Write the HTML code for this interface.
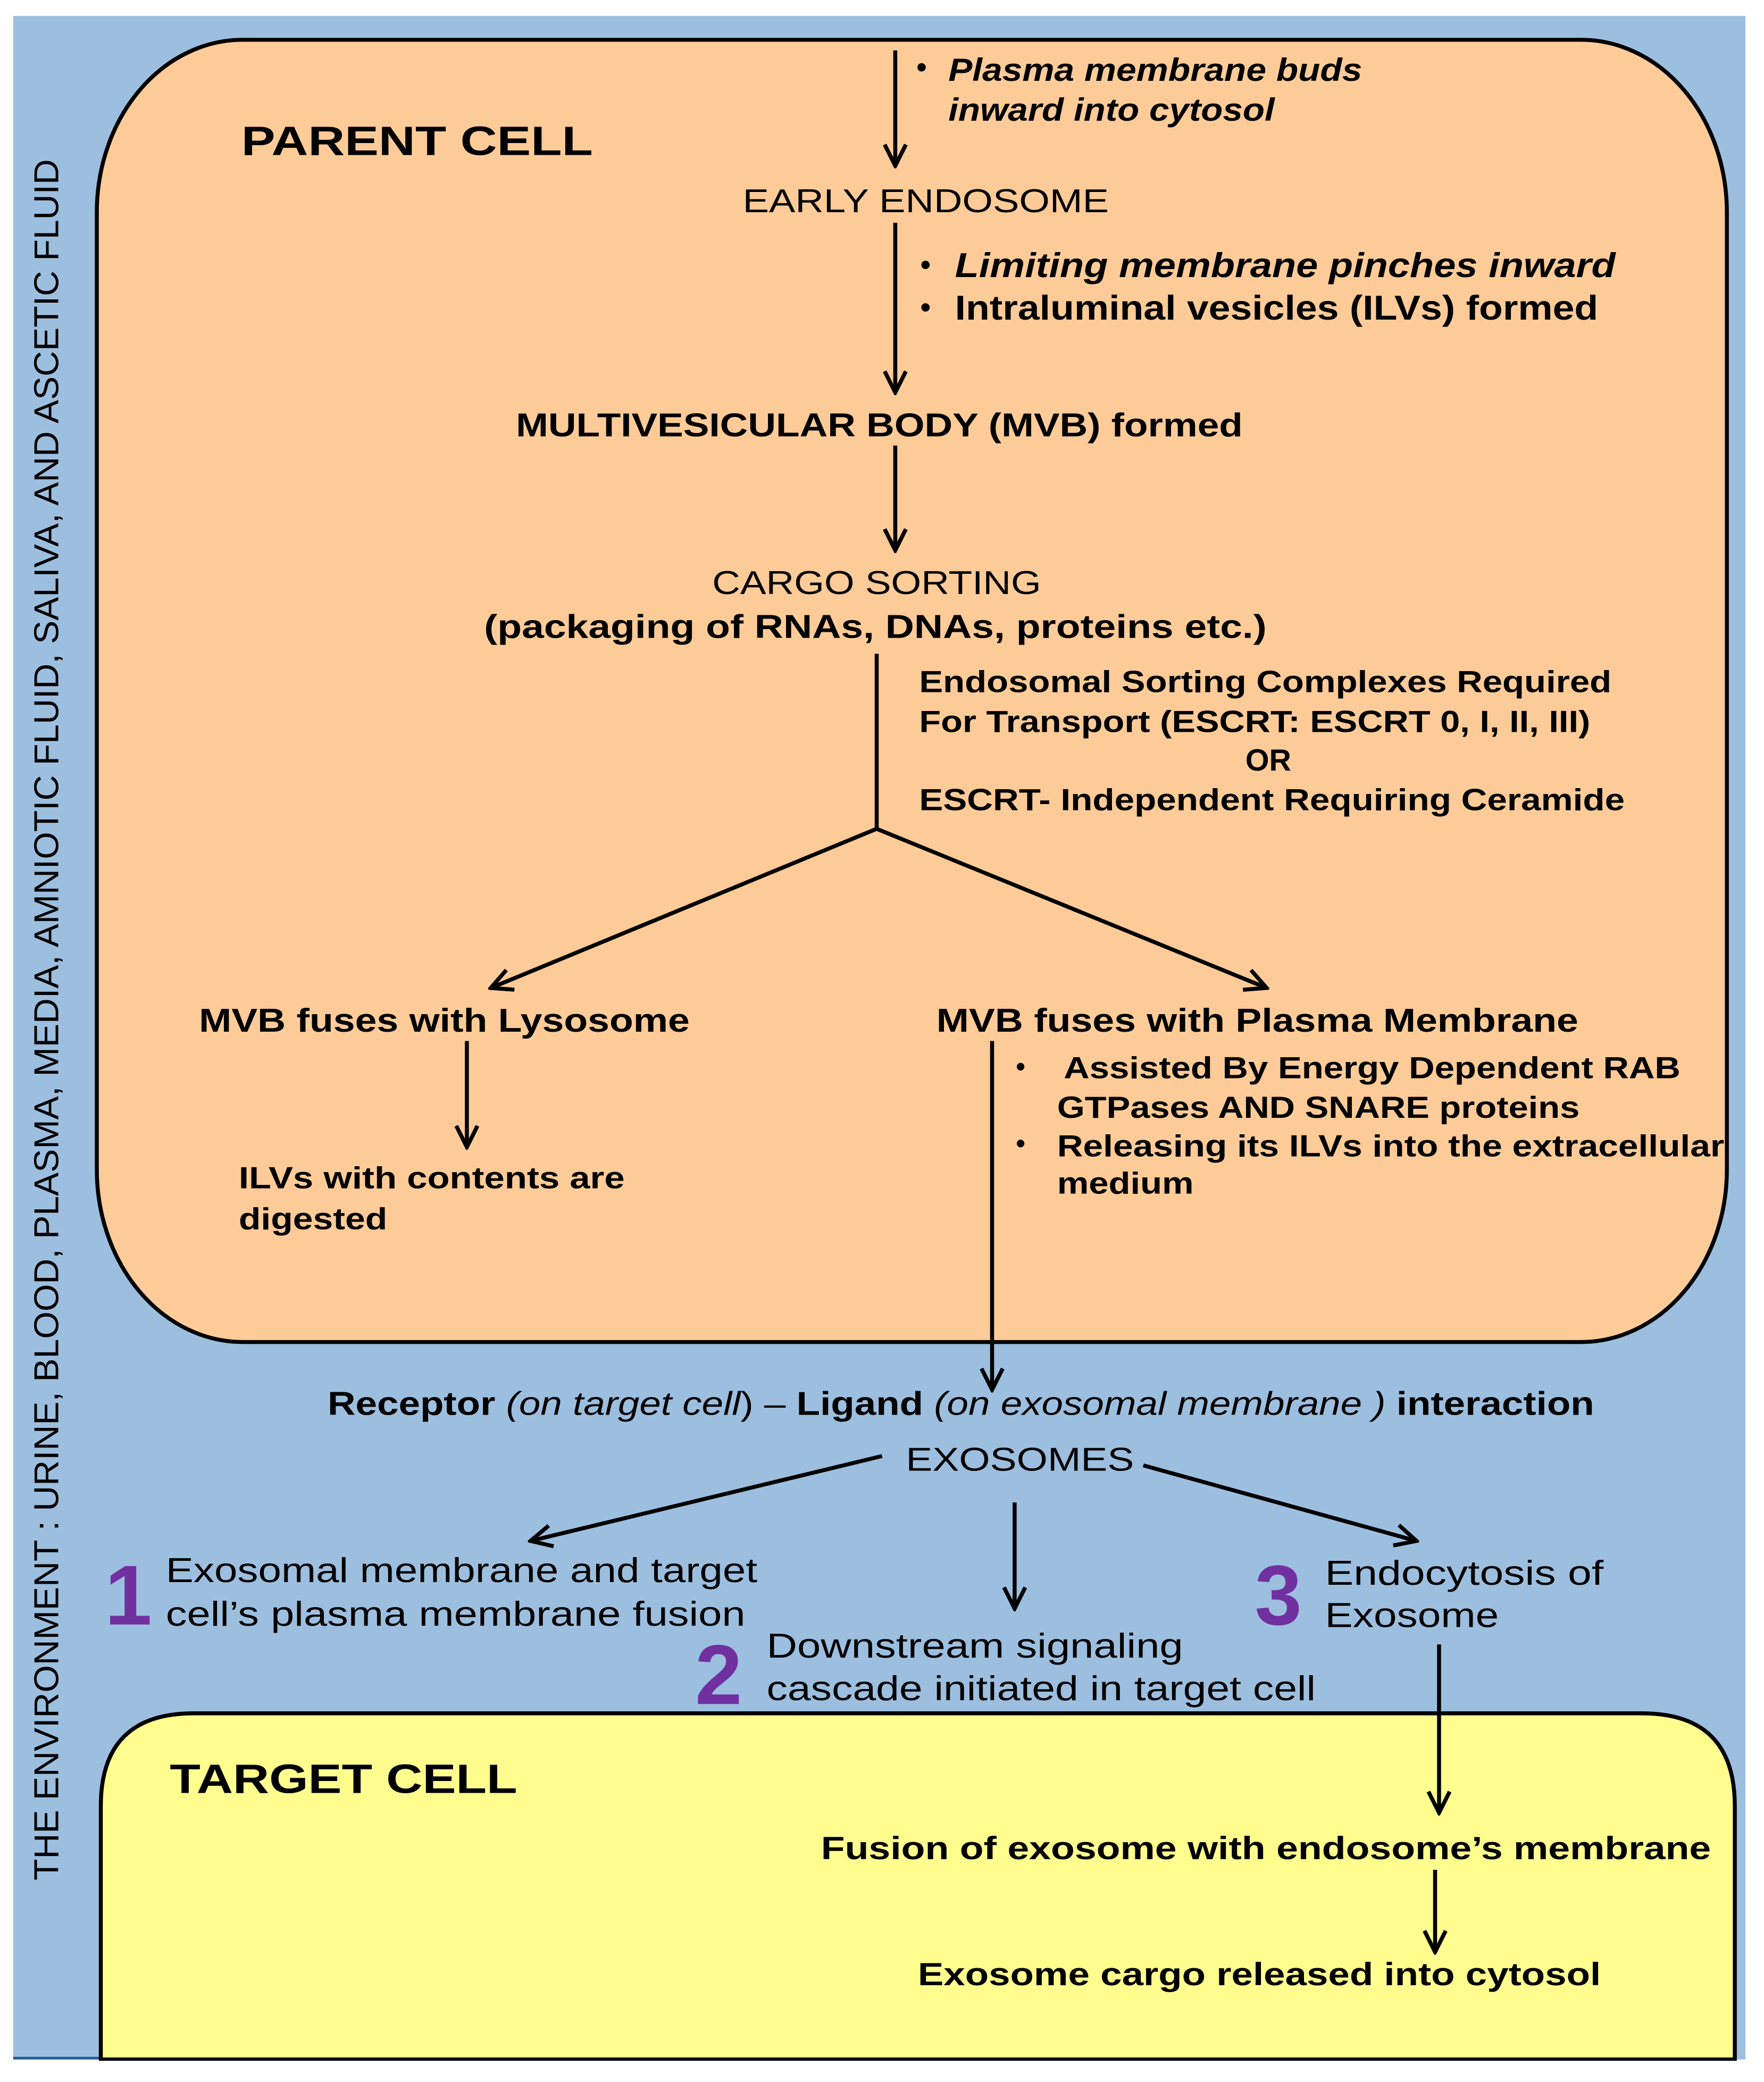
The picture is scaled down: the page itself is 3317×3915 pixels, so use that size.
<!DOCTYPE html>
<html><head><meta charset="utf-8"><style>
html,body{margin:0;padding:0;background:#fff;}
svg{display:block;}
text{font-family:"Liberation Sans",Arial,sans-serif;fill:#000;}
.b{font-weight:bold;}
</style></head><body>
<svg width="3317" height="3915" viewBox="0 0 1330 1570" preserveAspectRatio="none" xmlns="http://www.w3.org/2000/svg">
<defs>
<marker id="a" viewBox="0 0 20 20" refX="18" refY="10" markerWidth="20" markerHeight="20" markerUnits="userSpaceOnUse" orient="auto">
<path d="M2,2 L18,10 L2,18" fill="none" stroke="#000" stroke-width="3"/>
</marker>
</defs>
<rect x="0" y="0" width="1330" height="1570" fill="#fff"/>
<rect x="10" y="12" width="1306" height="1541" fill="#9dbfdf"/>
<line x1="10" y1="1552" x2="76" y2="1552" stroke="#1f5f8f" stroke-width="2"/>
<rect x="73" y="30" width="1229" height="982" rx="110" ry="130" fill="#fdcb98" stroke="#000" stroke-width="3"/>
<path d="M76,1553 L76,1362 Q76,1292 146,1292 L1238,1292 Q1308,1292 1308,1362 L1308,1553 Z" fill="#fffd8e" stroke="#000" stroke-width="3"/>
<rect x="0" y="1554" width="1330" height="16" fill="#fff"/>

<text transform="translate(44,1418) rotate(-90)" font-size="26" textLength="1298" lengthAdjust="spacingAndGlyphs">THE ENVIRONMENT : URINE, BLOOD, PLASMA, MEDIA, AMNIOTIC FLUID, SALIVA, AND ASCETIC FLUID</text>

<g stroke="#000" stroke-width="3" fill="none" marker-end="url(#a)">
<line x1="675" y1="38" x2="675" y2="125"/>
<line x1="675" y1="168" x2="675" y2="296"/>
<line x1="675" y1="336" x2="675" y2="415"/>
<line x1="661" y1="625" x2="370" y2="745"/>
<line x1="661" y1="625" x2="955" y2="745"/>
<line x1="352" y1="785" x2="352" y2="865"/>
<line x1="748" y1="785" x2="748" y2="1048"/>
<line x1="665" y1="1098" x2="400" y2="1162"/>
<line x1="765" y1="1133" x2="765" y2="1213"/>
<line x1="862" y1="1105" x2="1068" y2="1162"/>
<line x1="1085" y1="1240" x2="1085" y2="1367"/>
<line x1="1082" y1="1410" x2="1082" y2="1472"/>
</g>
<line x1="661" y1="493" x2="661" y2="626" stroke="#000" stroke-width="3"/>

<text x="182" y="117" font-size="31" class="b" textLength="265" lengthAdjust="spacingAndGlyphs">PARENT CELL</text>
<text x="691" y="58" font-size="22" class="b">•</text>
<text x="715" y="61" font-size="24" class="b" font-style="italic" textLength="312" lengthAdjust="spacingAndGlyphs">Plasma membrane buds</text>
<text x="715" y="91" font-size="24" class="b" font-style="italic" textLength="246" lengthAdjust="spacingAndGlyphs">inward into cytosol</text>
<text x="560" y="160" font-size="25" textLength="276" lengthAdjust="spacingAndGlyphs">EARLY ENDOSOME</text>
<text x="694" y="207" font-size="22" class="b">•</text>
<text x="720" y="209" font-size="26" class="b" font-style="italic" textLength="498" lengthAdjust="spacingAndGlyphs">Limiting membrane pinches inward</text>
<text x="694" y="239" font-size="22" class="b">•</text>
<text x="720" y="241" font-size="26" class="b" textLength="485" lengthAdjust="spacingAndGlyphs">Intraluminal vesicles (ILVs) formed</text>
<text x="389" y="329" font-size="25" class="b" textLength="548" lengthAdjust="spacingAndGlyphs">MULTIVESICULAR BODY (MVB) formed</text>
<text x="537" y="448" font-size="25" textLength="248" lengthAdjust="spacingAndGlyphs">CARGO SORTING</text>
<text x="365" y="481" font-size="25" class="b" textLength="590" lengthAdjust="spacingAndGlyphs">(packaging of RNAs,  DNAs,  proteins etc.)</text>
<text x="693" y="522" font-size="23" class="b" textLength="522" lengthAdjust="spacingAndGlyphs">Endosomal Sorting Complexes Required</text>
<text x="693" y="552" font-size="23" class="b" textLength="506" lengthAdjust="spacingAndGlyphs">For Transport (ESCRT: ESCRT 0, I, II, III)</text>
<text x="939" y="581" font-size="23" class="b">OR</text>
<text x="693" y="611" font-size="23" class="b" textLength="532" lengthAdjust="spacingAndGlyphs">ESCRT- Independent Requiring Ceramide</text>
<text x="150" y="778" font-size="25" class="b" textLength="370" lengthAdjust="spacingAndGlyphs">MVB fuses with  Lysosome</text>
<text x="706" y="778" font-size="25" class="b" textLength="484" lengthAdjust="spacingAndGlyphs">MVB fuses with  Plasma Membrane</text>
<text x="180" y="896" font-size="23" class="b" textLength="291" lengthAdjust="spacingAndGlyphs">ILVs  with contents are</text>
<text x="180" y="927" font-size="23" class="b" textLength="112" lengthAdjust="spacingAndGlyphs">digested</text>
<text x="766" y="811" font-size="20" class="b">•</text>
<text x="802" y="813" font-size="23" class="b" textLength="465" lengthAdjust="spacingAndGlyphs">Assisted By Energy Dependent RAB</text>
<text x="797" y="843" font-size="23" class="b" textLength="394" lengthAdjust="spacingAndGlyphs">GTPases AND SNARE proteins</text>
<text x="766" y="869" font-size="20" class="b">•</text>
<text x="797" y="872" font-size="23" class="b" textLength="503" lengthAdjust="spacingAndGlyphs">Releasing its ILVs into the extracellular</text>
<text x="797" y="900" font-size="23" class="b" textLength="103" lengthAdjust="spacingAndGlyphs">medium</text>

<text x="247" y="1067" font-size="25" textLength="955" lengthAdjust="spacingAndGlyphs"><tspan class="b">Receptor </tspan><tspan font-style="italic">(on target cell</tspan>) – <tspan class="b">Ligand </tspan><tspan font-style="italic">(on exosomal membrane )</tspan><tspan class="b"> interaction</tspan></text>
<text x="683" y="1109" font-size="25" textLength="172" lengthAdjust="spacingAndGlyphs">EXOSOMES</text>

<text x="79" y="1225" font-size="64" class="b" fill="#7030a0" style="fill:#7030a0">1</text>
<text x="125" y="1193" font-size="26" textLength="446" lengthAdjust="spacingAndGlyphs">Exosomal membrane and target</text>
<text x="125" y="1226" font-size="26" textLength="437" lengthAdjust="spacingAndGlyphs">cell’s plasma membrane fusion</text>
<text x="524" y="1285" font-size="64" class="b" style="fill:#7030a0">2</text>
<text x="578" y="1250" font-size="26" textLength="314" lengthAdjust="spacingAndGlyphs">Downstream signaling</text>
<text x="578" y="1282" font-size="26" textLength="414" lengthAdjust="spacingAndGlyphs">cascade initiated in target cell</text>
<text x="946" y="1225" font-size="64" class="b" style="fill:#7030a0">3</text>
<text x="999" y="1195" font-size="26" textLength="210" lengthAdjust="spacingAndGlyphs">Endocytosis of</text>
<text x="999" y="1227" font-size="26" textLength="131" lengthAdjust="spacingAndGlyphs">Exosome</text>

<text x="128" y="1352" font-size="31" class="b" textLength="262" lengthAdjust="spacingAndGlyphs">TARGET CELL</text>
<text x="619" y="1402" font-size="24" class="b" textLength="671" lengthAdjust="spacingAndGlyphs">Fusion of exosome with endosome’s membrane</text>
<text x="692" y="1497" font-size="24" class="b" textLength="515" lengthAdjust="spacingAndGlyphs">Exosome cargo released into cytosol</text>
</svg>
</body></html>
